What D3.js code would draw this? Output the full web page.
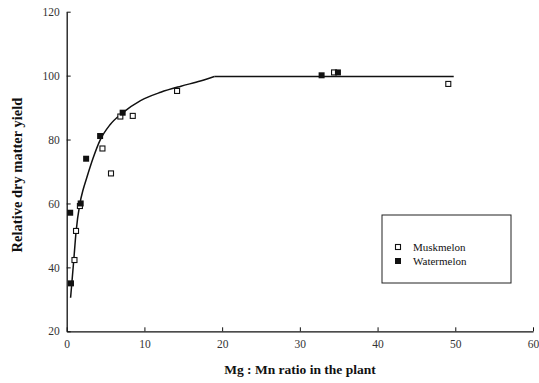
<!DOCTYPE html>
<html><head><meta charset="utf-8">
<script src="https://cdn.jsdelivr.net/npm/d3@7"></script>
<style>body{margin:0;background:#fff}svg{display:block}</style>
</head><body>
<svg id="c" width="539" height="383"></svg>
<script>
const xTicks = [0,10,20,30,40,50,60];
const yTicks = [20,40,60,80,100,120];
const muskX = [1.0,1.2,1.7,4.6,5.7,6.9,8.5,14.2,34.4,49.1];
const muskY = [42.3,51.4,59.2,77.2,69.4,87.2,87.4,95.2,101,97.4];
const waterX = [0.45,0.55,1.8,2.5,4.3,7.2,32.8,34.9];
const waterY = [57.1,35.0,60.0,74.0,81.1,88.4,100.1,101];
const curveX = [0.5,0.9,1.2,1.7,2.1,2.6,3.4,4.3,5.6,7.1,9.5,12.1,14.7,17.2,19.0];
const curveY = [30.5,42,51,60,64.2,68.2,74.2,79.8,84.7,88.2,92.2,94.8,96.7,98.3,99.7];
const plateauX = [19.0,49.8];
const plateauY = [99.7,99.7];
const seriesNames = ["Muskmelon","Watermelon"];

const svg = d3.select("#c");
const x = d3.scaleLinear().domain([0,60]).range([66.7,533]);
const y = d3.scaleLinear().domain([20,120]).range([331.3,11.7]);
const font = "'Liberation Serif','Times New Roman',serif";

const gx = svg.append("g").attr("transform",`translate(0,${y(20)})`)
  .call(d3.axisBottom(x).tickValues(xTicks).tickSizeInner(-4).tickSizeOuter(0).tickPadding(9));
const gy = svg.append("g").attr("transform",`translate(${x(0)},0)`)
  .call(d3.axisLeft(y).tickValues(yTicks).tickSizeInner(-4).tickSizeOuter(0).tickPadding(7));
[gx,gy].forEach(g=>{
  g.select(".domain").attr("stroke","#111").attr("stroke-width",1.3);
  g.selectAll(".tick line").attr("stroke","#111").attr("stroke-width",1);
  g.selectAll(".tick text").attr("font-family",font).attr("font-size",11.5).attr("fill","#333");
});

const curvePts = curveX.map((v,i)=>[v,curveY[i]]);
svg.append("path").datum(curvePts)
  .attr("d", d3.line().x(d=>x(d[0])).y(d=>y(d[1])).curve(d3.curveMonotoneX))
  .attr("fill","none").attr("stroke","#111").attr("stroke-width",1.5);
svg.append("path").datum(plateauX.map((v,i)=>[v,plateauY[i]]))
  .attr("d", d3.line().x(d=>x(d[0])).y(d=>y(d[1])))
  .attr("fill","none").attr("stroke","#111").attr("stroke-width",1.5);

const s = 5;
svg.append("g").selectAll("rect").data(muskX.map((v,i)=>[v,muskY[i]])).join("rect")
  .attr("x",d=>x(d[0])-s/2).attr("y",d=>y(d[1])-s/2).attr("width",s).attr("height",s)
  .attr("fill","#fff").attr("stroke","#111").attr("stroke-width",1.1);
svg.append("g").selectAll("rect").data(waterX.map((v,i)=>[v,waterY[i]])).join("rect")
  .attr("x",d=>x(d[0])-3).attr("y",d=>y(d[1])-3).attr("width",6).attr("height",6)
  .attr("fill","#111");

// legend
const lg = svg.append("g");
lg.append("rect").attr("x",382).attr("y",215).attr("width",129).attr("height",68)
  .attr("fill","#fff").attr("stroke","#222").attr("stroke-width",1);
seriesNames.forEach((n,i)=>{
  const cy = 247 + i*14;
  if(i===0) lg.append("rect").attr("x",395.5).attr("y",cy-2.5).attr("width",5).attr("height",5)
     .attr("fill","#fff").attr("stroke","#111").attr("stroke-width",1.1);
  else lg.append("rect").attr("x",395).attr("y",cy-3).attr("width",6).attr("height",6).attr("fill","#111");
  lg.append("text").attr("x",413).attr("y",cy+3.5).text(n)
    .attr("font-family",font).attr("font-size",11).attr("fill","#111");
});

svg.append("text").attr("x",300).attr("y",374).attr("text-anchor","middle")
  .attr("font-family",font).attr("font-weight","bold").attr("font-size",13.5)
  .attr("fill","#111").text("Mg : Mn ratio in the plant");
svg.append("text").attr("transform","translate(22,175) rotate(-90)").attr("text-anchor","middle")
  .attr("font-family",font).attr("font-weight","bold").attr("font-size",14.5)
  .attr("fill","#111").text("Relative dry matter yield");
</script>
</body></html>
